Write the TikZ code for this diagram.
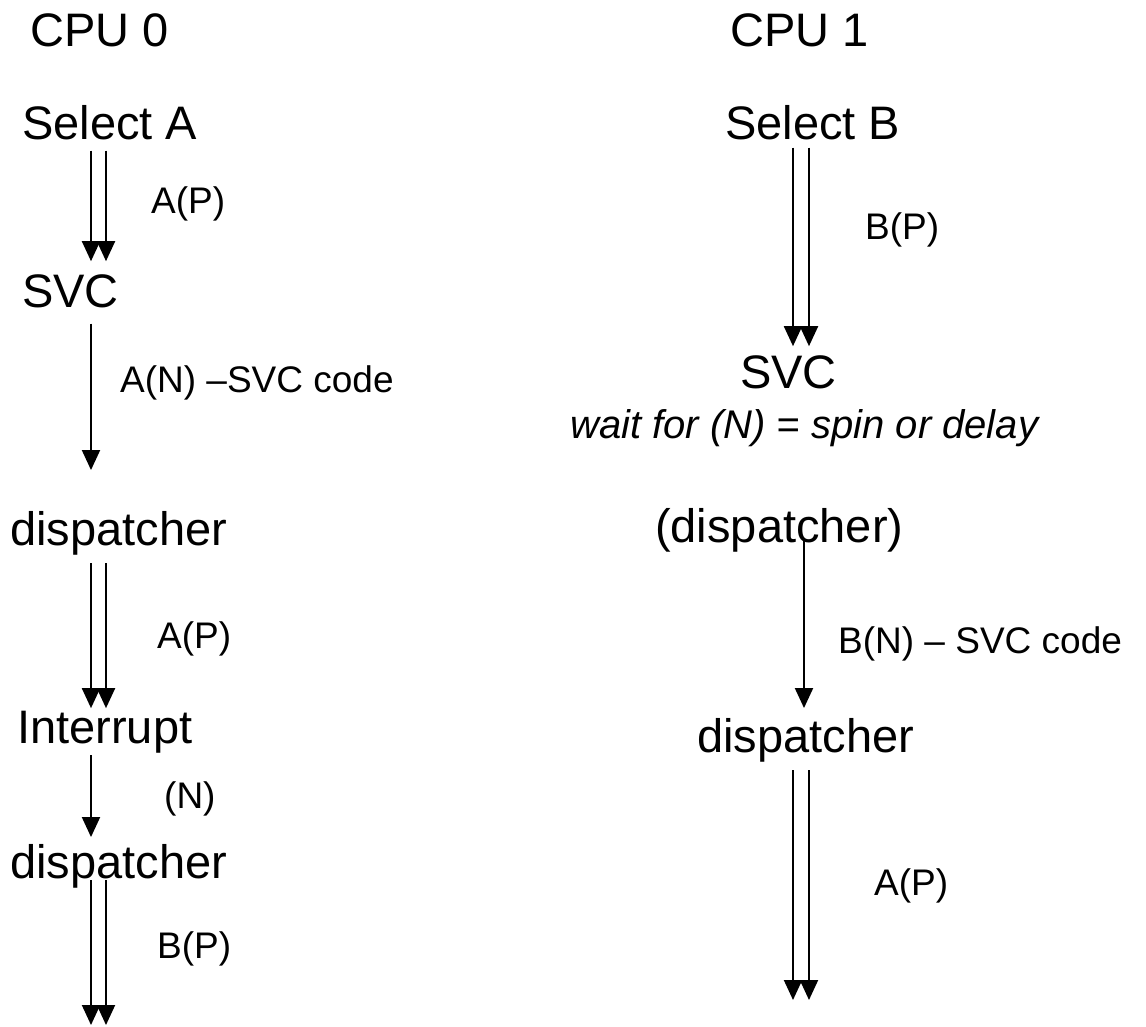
\documentclass[tikz,border=0pt]{standalone}
\usepackage{fontspec}
\setmainfont{Liberation Sans}
\usetikzlibrary{arrows.meta}
\begin{document}
\begin{tikzpicture}[x=1pt,y=-1pt,
  big/.style={font=\fontsize{47}{56}\selectfont, inner sep=0pt, anchor=base west},
  lbl/.style={font=\fontsize{37}{44}\selectfont, inner sep=0pt, anchor=base west},
  note/.style={font=\fontsize{40}{48}\selectfont\itshape, inner sep=0pt, anchor=base west},
  arr/.style={line width=2pt, -{Triangle[width=18pt,length=20pt]}}]
\path[use as bounding box] (0,0) rectangle (1146,1027);
% columns
\coordinate (L1) at (91,0);
\coordinate (L2) at (106,0);
\coordinate (R1) at (793,0);
\coordinate (R2) at (809,0);
\coordinate (Rs) at (804,0);
\coordinate (endL) at (0,1025);
\coordinate (endR) at (0,1000);
% CPU 0 column
\node[big] (cpu0) at (30,47) {CPU 0};
\node[big] (selA) at (22,140) {Select A};
\node[big] (svcA) at (22,307) {SVC};
\node[big] (dispA1) at (10,545) {dispatcher};
\node[big] (intr) at (17,743) {Interrupt};
\node[big] (dispA2) at (10,878) {dispatcher};
\node[lbl] (lAP1) at (151,214) {A(P)};
\node[lbl] (lAN) at (120,392) {A(N) \textendash SVC code};
\node[lbl] (lAP2) at (157,648) {A(P)};
\node[lbl] (lN) at (164,808) {(N)};
\node[lbl] (lBP1) at (157,958) {B(P)};
% CPU 1 column
\node[big] (cpu1) at (730,47) {CPU 1};
\node[big] (selB) at (725,140) {Select B};
\node[big] (svcB) at (740,388) {SVC};
\node[note] (wait) at (570,438) {wait for (N) = spin or delay};
\node[big] (dispB0) at (655,542) {(dispatcher)};
\node[big] (dispB) at (697,752) {dispatcher};
\node[lbl] (lBP2) at (865,240) {B(P)};
\node[lbl] (lBN) at (838,653) {B(N) \textendash\ SVC code};
\node[lbl] (lAP3) at (874,895) {A(P)};
% connectors CPU 0
\draw[arr, shorten <=10pt, shorten >=12.8pt] (selA.south -| L1) -- (svcA.north -| L1);
\draw[arr, shorten <=10pt, shorten >=12.8pt] (selA.south -| L2) -- (svcA.north -| L2);
\draw[arr, shorten <=16pt, shorten >=40.7pt] (svcA.south -| L1) -- (dispA1.north -| L1);
\draw[arr, shorten <=8.2pt, shorten >=2.3pt] (dispA1.south -| L1) -- (intr.north -| L1);
\draw[arr, shorten <=8.2pt, shorten >=2.3pt] (dispA1.south -| L2) -- (intr.north -| L2);
\draw[arr, shorten <=2.2pt, shorten >=6.7pt] (intr.south -| L1) -- (dispA2.north -| L1);
\draw[arr, shorten <=-7.8pt] (dispA2.south -| L1) -- (endL -| L1);
\draw[arr, shorten <=-7.8pt] (dispA2.south -| L2) -- (endL -| L2);
% connectors CPU 1
\draw[arr, shorten <=7pt, shorten >=8.8pt] (selB.south -| R1) -- (svcB.north -| R1);
\draw[arr, shorten <=7pt, shorten >=8.8pt] (selB.south -| R2) -- (svcB.north -| R2);
\draw[arr, shorten <=-10.9pt, shorten >=9.7pt] (dispB0.south -| Rs) -- (dispB.north -| Rs);
\draw[arr, shorten <=8.2pt] (dispB.south -| R1) -- (endR -| R1);
\draw[arr, shorten <=8.2pt] (dispB.south -| R2) -- (endR -| R2);
\end{tikzpicture}
\end{document}
